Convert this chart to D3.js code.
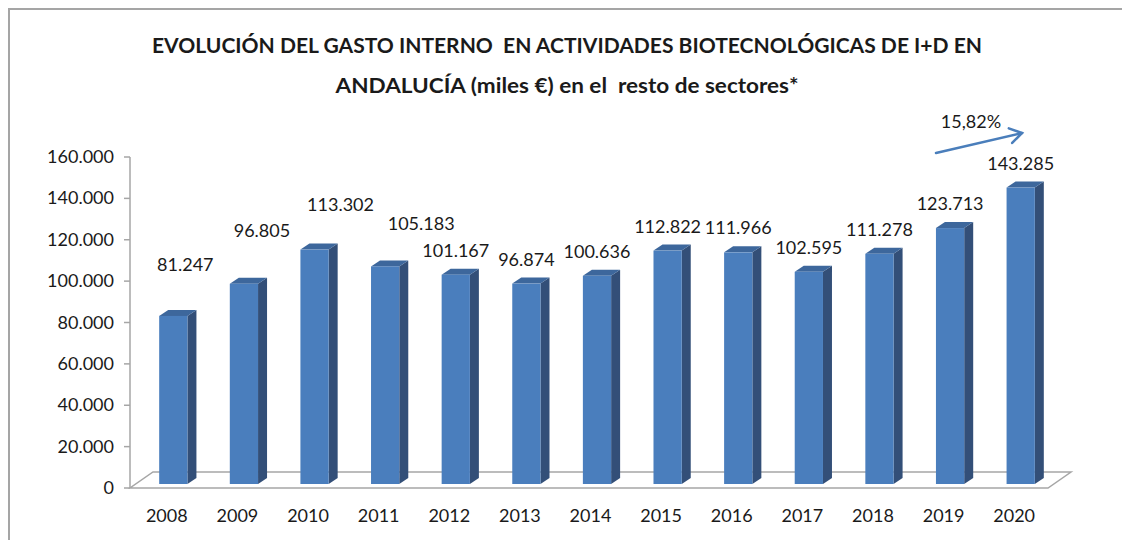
<!DOCTYPE html>
<html>
<head>
<meta charset="utf-8">
<script src="https://cdn.jsdelivr.net/npm/d3@7"></script>
<style>
  html, body { margin: 0; padding: 0; background: #fff; }
  svg { display: block; font-family: Lato, 'Open Sans', sans-serif; }
</style>
</head>
<body>
<div id="chart"></div>
<script>
// data
const years = ['2008', '2009', '2010', '2011', '2012', '2013', '2014', '2015', '2016', '2017', '2018', '2019', '2020']
const values = [81247, 96805, 113302, 105183, 101167, 96874, 100636, 112822, 111966, 102595, 111278, 123713, 143285]
const yTicks = [0, 20000, 40000, 60000, 80000, 100000, 120000, 140000, 160000]
const titleLines = [
  'EVOLUCIÓN DEL GASTO INTERNO  EN ACTIVIDADES BIOTECNOLÓGICAS DE I+D EN',
  'ANDALUCÍA (miles €) en el  resto de sectores*',
]
const growthLabel = '15,82%'

// the first few labels were dragged by hand in the original
const labelNudge = [[12, -27], [18, -29], [26, -21], [36, -18]]

const W = 1122, H = 540
const fmt = v => d3.format(',')(v).replace(/,/g, '.')

const svg = d3.select('#chart').append('svg')
  .attr('width', W).attr('height', H)

// outer frame (right/bottom run off the picture)
svg.append('rect')
  .attr('x', 9).attr('y', 9).attr('width', 1200).attr('height', 600)
  .attr('fill', 'none').attr('stroke', '#a5a5a5').attr('stroke-width', 2)

// title
const titleW = [830, 463]
titleLines.forEach((t, i) => {
  svg.append('text')
    .attr('x', 567).attr('y', 53 + i * 40)
    .attr('text-anchor', 'middle')
    .attr('font-size', 20).attr('font-weight', 700).attr('fill', '#1a1a1a')
    .attr('textLength', titleW[i]).attr('lengthAdjust', 'spacingAndGlyphs')
    .style('white-space', 'pre')
    .text(t)
})

const x = d3.scaleBand().domain(years).range([130, 1048])
  .paddingInner(0.6).paddingOuter(0.3)
const y = d3.scaleLinear().domain([0, 160000]).range([488, 157])

const floorD = [23, -16]          // depth of the 3D floor
const barShift = [8, -4]           // bars sit a little into the floor
const barD = [9, -6]               // depth of a bar

// floor
const x0 = 130, x1 = 1048, y0 = y(0)
svg.append('path')
  .attr('d', `M${x0},${y0}L${x1},${y0}L${x1 + floorD[0]},${y0 + floorD[1]}L${x0 + floorD[0]},${y0 + floorD[1]}Z`)
  .attr('fill', '#fff').attr('stroke', '#a6a6a6').attr('stroke-width', 1.5)

// y axis
const yAxis = svg.append('g')
yAxis.append('line')
  .attr('x1', 130).attr('x2', 130).attr('y1', y(160000)).attr('y2', y(0))
  .attr('stroke', '#a6a6a6').attr('stroke-width', 1.5)
yAxis.selectAll('.tick').data(yTicks).join('g')
  .attr('class', 'tick')
  .each(function(d) {
    const g = d3.select(this)
    g.append('line')
      .attr('x1', 124).attr('x2', 130).attr('y1', y(d)).attr('y2', y(d))
      .attr('stroke', '#a6a6a6').attr('stroke-width', 1.5)
    g.append('text')
      .attr('x', 114).attr('y', y(d) + 6)
      .attr('text-anchor', 'end').attr('font-size', 18).attr('fill', '#1a1a1a')
      .text(d === 0 ? '0' : fmt(d))
  })

// category labels
svg.append('g').selectAll('text').data(years).join('text')
  .attr('x', d => x(d) + x.bandwidth() / 2 + 1.5)
  .attr('y', 522)
  .attr('text-anchor', 'middle').attr('font-size', 18).attr('fill', '#1a1a1a')
  .text(d => d)

// bars
const bars = svg.append('g').selectAll('g').data(values).join('g')
bars.each(function(v, i) {
  const g = d3.select(this)
  const bx = x(years[i]) + barShift[0]
  const bw = x.bandwidth()
  const top = y(v) + barShift[1]
  const base = y(0) + barShift[1]
  // side
  g.append('path')
    .attr('d', `M${bx + bw},${top}L${bx + bw + barD[0]},${top + barD[1]}L${bx + bw + barD[0]},${base + barD[1]}L${bx + bw},${base}Z`)
    .attr('fill', '#334f78')
  // top
  g.append('path')
    .attr('d', `M${bx},${top}L${bx + barD[0]},${top + barD[1]}L${bx + bw + barD[0]},${top + barD[1]}L${bx + bw},${top}Z`)
    .attr('fill', '#3d679c')
  // front
  g.append('rect')
    .attr('x', bx).attr('y', top).attr('width', bw).attr('height', base - top)
    .attr('fill', '#4a7ebd')
})

// value labels
svg.append('g').selectAll('text').data(values).join('text')
  .attr('x', (v, i) => x(years[i]) + barShift[0] + x.bandwidth() / 2 + (labelNudge[i] ? labelNudge[i][0] : 0))
  .attr('y', (v, i) => y(v) + barShift[1] - 18 + (labelNudge[i] ? labelNudge[i][1] : 0))
  .attr('text-anchor', 'middle').attr('font-size', 18).attr('fill', '#1a1a1a')
  .text(v => fmt(v))

// growth arrow
const arrow = svg.append('g')
  .attr('stroke', '#4a7ebb').attr('stroke-width', 2.5).attr('fill', 'none')
  .attr('stroke-linecap', 'round')
const ax0 = 936, ay0 = 153, ax1 = 1022, ay1 = 133
arrow.append('line').attr('x1', ax0).attr('y1', ay0).attr('x2', ax1).attr('y2', ay1)
const ang = Math.atan2(ay1 - ay0, ax1 - ax0)
const head = [ang + Math.PI * 0.82, ang - Math.PI * 0.82].map(a => [ax1 + 14 * Math.cos(a), ay1 + 14 * Math.sin(a)])
arrow.append('path')
  .attr('d', `M${head[0][0]},${head[0][1]}L${ax1},${ay1}L${head[1][0]},${head[1][1]}`)
  .attr('stroke-linejoin', 'miter')
svg.append('text')
  .attr('x', 971).attr('y', 128)
  .attr('text-anchor', 'middle').attr('font-size', 18).attr('fill', '#1a1a1a')
  .text(growthLabel)
</script>
</body>
</html>
